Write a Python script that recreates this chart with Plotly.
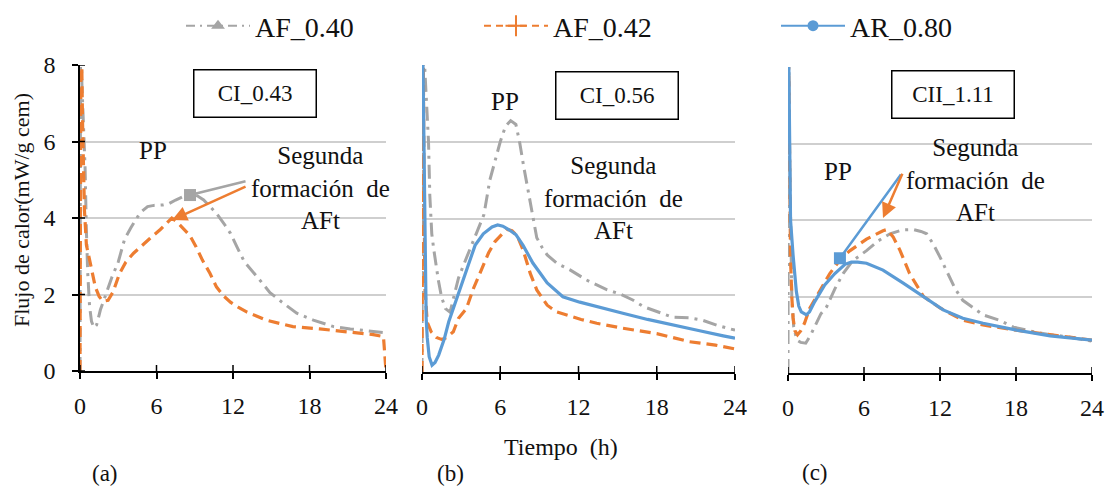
import plotly.graph_objects as go

W, H = 1110, 486
FONT = "Liberation Serif"
GRAY = "#A5A5A5"
ORANGE = "#ED7D31"
BLUE = "#5B9BD5"
TXT = "#111111"

SERIES = ["AF_0.40", "AF_0.42", "AR_0.80"]
X_TICKS = [0, 6, 12, 18, 24]
Y_TICKS = [0, 2, 4, 6, 8]
PANEL_LABELS = ["(a)", "(b)", "(c)"]
PANEL_BOXES = ["CI_0.43", "CI_0.56", "CII_1.11"]

# ---------------- Panel (a) CI_0.43 ----------------
A_AF040_T = [0, 0.05, 0.15, 0.3, 0.4, 0.5, 0.6, 0.75, 0.9, 1.1, 1.3, 1.6, 2.0, 2.5, 3.0, 3.5, 4.0,
             4.7, 5.3, 5.8, 6.5, 7.0, 7.5, 8.0, 8.6, 9.2, 9.7, 10.2, 10.7, 11.3, 11.8, 12.3, 12.9,
             13.9, 14.9, 15.8, 17.0, 18.3, 19.9, 21.2, 22.5, 24]
A_AF040_Y = [0, 9.5, 7.5, 6.0, 5.3, 3.7, 2.6, 1.7, 1.3, 1.13, 1.2, 1.6, 2.0, 2.45, 2.85, 3.45, 3.75,
             4.13, 4.3, 4.33, 4.34, 4.38, 4.47, 4.55, 4.63, 4.58, 4.47, 4.3, 4.12, 3.85, 3.6, 3.25, 2.85,
             2.46, 2.05, 1.81, 1.51, 1.33, 1.16, 1.1, 1.05, 1.0]
A_AF042_T = [0, 0.08, 0.2, 0.35, 0.5, 0.7, 0.9, 1.2, 1.5, 1.8, 2.2, 2.6, 3.1, 3.6, 4.2, 4.8, 5.5,
             6.3, 6.8, 7.2, 7.6, 8.1, 8.6, 9.1, 9.6, 10.2, 10.7, 11.3, 11.8, 12.4, 13.1, 14.6, 16.7,
             18.8, 21.2, 23.0, 23.8, 24]
A_AF042_Y = [0, 9.5, 6.5, 4.2, 3.3, 3.0, 2.65, 2.2, 1.95, 1.82, 1.85, 2.07, 2.55, 2.85, 3.08, 3.27, 3.47,
             3.7, 3.88, 4.0, 3.9, 3.72, 3.55, 3.25, 2.9, 2.55, 2.2, 1.95, 1.8, 1.67, 1.54, 1.33, 1.16,
             1.1, 1.02, 0.95, 0.9, 0]

# ---------------- Panel (b) CI_0.56 ----------------
B_AF040_T = [0, 0.05, 0.2, 0.35, 0.5, 0.6, 0.75, 0.9, 1.05, 1.25, 1.5, 1.8, 2.15, 2.5, 2.8, 3.2, 3.7,
             4.35, 4.75, 5.2, 5.6, 6.0, 6.4, 6.8, 7.2, 7.5, 7.8, 8.05, 8.3, 8.5, 8.8, 9.2, 9.6, 10.35,
             11.35, 12.6, 14.2, 15.2, 16.2, 17.0, 18.0, 19.2, 20.5, 21.5, 22.6, 24]
B_AF040_Y = [0, 9.5, 8.0, 7.0, 6.0, 4.6, 3.6, 3.2, 2.8, 2.4, 1.95, 1.65, 1.56, 2.0, 2.45, 2.8, 3.23,
             3.75, 4.1, 5.0, 5.5, 6.0, 6.4, 6.55, 6.45, 5.96, 5.35, 4.9, 4.48, 4.1, 3.5, 3.25, 3.05, 2.83,
             2.66, 2.4, 2.14, 2.03, 1.87, 1.7, 1.58, 1.43, 1.41, 1.35, 1.22, 1.09]
B_AF042_T = [0, 0.08, 0.15, 0.22, 0.4, 0.7, 1.1, 1.5, 1.9, 2.4, 2.8, 3.4, 3.96, 4.4, 5.1, 5.6, 6.2,
             6.5, 6.9, 7.3, 7.75, 8.3, 8.8, 9.6, 10.3, 11.1, 12.2, 13.4, 15.4, 18.0, 20.5, 22.5, 24]
B_AF042_Y = [0, 9.5, 5.0, 2.2, 1.3, 1.05, 0.9, 0.85, 0.9, 1.05, 1.4, 1.65, 2.19, 2.53, 3.1, 3.4, 3.61,
             3.72, 3.68, 3.55, 3.18, 2.57, 2.14, 1.74, 1.57, 1.48, 1.37, 1.27, 1.14, 1.0, 0.79, 0.7, 0.6]
B_AR080_T = [0, 0.1, 0.18, 0.25, 0.32, 0.4, 0.55, 0.77, 1.0, 1.28, 1.7, 2.05, 2.6, 3.07, 3.6, 4.07,
             4.7, 5.37, 5.8, 6.2, 6.7, 7.2, 7.75, 8.5, 9.6, 10.8, 12.1, 13.7, 15.4, 17.3, 19.2, 21.2,
             23.1, 24]
B_AR080_Y = [10, 7.5, 5.0, 2.2, 1.4, 0.9, 0.4, 0.18, 0.25, 0.44, 0.85, 1.31, 1.85, 2.34, 2.85, 3.3,
             3.6, 3.78, 3.83, 3.8, 3.7, 3.58, 3.3, 2.84, 2.32, 1.96, 1.82, 1.67, 1.53, 1.37, 1.22, 1.08,
             0.94, 0.88]

# ---------------- Panel (c) CII_1.11 ----------------
C_AF040_T = [0, 0.04, 0.12, 0.2, 0.3, 0.45, 0.7, 1.0, 1.4, 1.8, 2.26, 2.6, 3.05, 3.7, 4.35, 5.1, 6.2,
             7.1, 8.05, 9.0, 9.9, 10.5, 10.95, 11.5, 12.0, 13.2, 13.8, 14.6, 15.4, 16.7, 17.8, 19.4,
             20.7, 22.0, 23.3, 24]
C_AF040_Y = [0, 9.5, 6.0, 3.4, 2.0, 1.2, 0.86, 0.8, 0.78, 1.0, 1.34, 1.55, 1.73, 2.2, 2.6, 2.93, 3.2,
             3.45, 3.64, 3.74, 3.75, 3.7, 3.64, 3.35, 3.03, 2.2, 1.9, 1.7, 1.52, 1.38, 1.2, 1.08,
             1.0, 0.95, 0.86, 0.83]
C_AF042_T = [0, 0.1, 0.2, 0.3, 0.4, 0.55, 0.75, 1.0, 1.3, 1.7, 2.4, 3.3, 4.2, 4.9, 6.2, 7.0, 7.5,
             7.8, 8.3, 8.85, 9.6, 10.7, 12.0, 13.8, 15.5, 18.0, 21.0, 24]
C_AF042_Y = [10, 6.0, 3.0, 2.0, 1.44, 1.1, 1.0, 1.1, 1.3, 1.68, 2.1, 2.6, 3.0, 3.2, 3.5, 3.65, 3.72,
             3.75, 3.56, 3.2, 2.6, 2.0, 1.7, 1.38, 1.25, 1.12, 0.98, 0.86]
C_AR080_T = [0, 0.08, 0.2, 0.4, 0.66, 0.85, 1.05, 1.45, 1.7, 2.1, 2.9, 3.7, 4.5, 5.0, 5.5, 6.2, 7.5,
             9.1, 10.7, 12.25, 13.8, 15.4, 18.05, 20.7, 24]
C_AR080_Y = [10, 8.0, 4.0, 3.08, 2.13, 1.75, 1.6, 1.52, 1.6, 1.86, 2.3, 2.6, 2.84, 2.9, 2.9, 2.87,
             2.69, 2.35, 1.99, 1.65, 1.43, 1.3, 1.12, 0.97, 0.86]

# annotation arrows (head, tail) in data units
A_ARROWS = [  # (head_t, head_y, tail_t, tail_y, color, head style)
    (8.63, 4.60, 13.1, 4.97, GRAY, 7),
    (7.22, 3.95, 13.1, 4.84, ORANGE, 2),
]
C_ARROWS = [
    (4.1, 3.00, 9.0, 5.23, BLUE, 7),
    (7.5, 4.05, 9.08, 5.25, ORANGE, 2),
]


def px(x):
    return x / W


def py(y):
    return 1 - y / H


STYLE = {
    "AF_0.40": dict(color=GRAY, width=3, dash="14px,6px,3px,6px"),
    "AF_0.42": dict(color=ORANGE, width=3.2, dash="11px,6px"),
    "AR_0.80": dict(color=BLUE, width=3.2),
}

panels = [
    ("x", "y", [("AF_0.40", A_AF040_T, A_AF040_Y), ("AF_0.42", A_AF042_T, A_AF042_Y)]),
    ("x2", "y2", [("AF_0.40", B_AF040_T, B_AF040_Y), ("AF_0.42", B_AF042_T, B_AF042_Y),
                  ("AR_0.80", B_AR080_T, B_AR080_Y)]),
    ("x3", "y3", [("AF_0.40", C_AF040_T, C_AF040_Y), ("AF_0.42", C_AF042_T, C_AF042_Y),
                  ("AR_0.80", C_AR080_T, C_AR080_Y)]),
]

fig = go.Figure()
for xa, ya, series in panels:
    for name, t, y in series:
        fig.add_trace(go.Scatter(x=t, y=y, mode="lines", name=name, showlegend=False,
                                 line=STYLE[name], xaxis=xa, yaxis=ya, hoverinfo="skip"))

# legend-only entries, one legend per series
LEG_MARK = {
    "AF_0.40": dict(symbol="triangle-up", size=12, color=GRAY),
    "AF_0.42": dict(symbol="cross-thin", size=15, color=ORANGE, line=dict(color=ORANGE, width=2)),
    "AR_0.80": dict(symbol="circle", size=11, color=BLUE),
}
LEG_DASH = {"AF_0.40": "9px,5px,2px,5px", "AF_0.42": "7px,5px", "AR_0.80": None}
LEG_IDS = ["legend", "legend2", "legend3"]
for name, lid in zip(SERIES, LEG_IDS):
    st = dict(STYLE[name])
    st["width"] = 2
    if LEG_DASH[name]:
        st["dash"] = LEG_DASH[name]
    fig.add_trace(go.Scatter(x=[None], y=[None], mode="lines+markers", name=name, legend=lid,
                             line=st, marker=LEG_MARK[name], xaxis="x", yaxis="y"))

domains = [((80, 386), (65, 371)), ((422, 735), (65, 372)), ((788, 1092), (67, 373))]
tickfont = dict(family=FONT, size=24, color=TXT)
LEG_ITEMW = 64
layout = dict(
    template="none",
    width=W, height=H, margin=dict(l=0, r=0, t=0, b=0, pad=0, autoexpand=False),
    paper_bgcolor="white", plot_bgcolor="white",
    font=dict(family=FONT, color=TXT),
    showlegend=True,
)
for lid, tx in zip(LEG_IDS, [255, 553, 850]):
    layout[lid] = dict(orientation="h", x=px(tx - LEG_ITEMW - 10), xanchor="left", y=py(26),
                       yanchor="middle", itemwidth=LEG_ITEMW,
                       font=dict(family=FONT, size=28, color=TXT), bgcolor="rgba(0,0,0,0)",
                       borderwidth=0)
for i, ((x0, x1), (y0, y1)) in enumerate(domains):
    k = "" if i == 0 else str(i + 1)
    layout["xaxis" + k] = dict(
        domain=[px(x0), px(x1)], anchor="y" + k, range=[0, 24], tickvals=X_TICKS,
        ticks="outside", ticklen=6, tickwidth=1.5, tickcolor="black",
        showline=True, linecolor="black", linewidth=2, showgrid=False, zeroline=False,
        tickfont=tickfont, ticklabelstandoff=6, automargin=False, fixedrange=True)
    layout["yaxis" + k] = dict(
        domain=[py(y1), py(y0)], anchor="x" + k, range=[0, 8], tickvals=Y_TICKS,
        showgrid=True, gridcolor="#CFCFCF", gridwidth=1.5, zeroline=False,
        showline=(i == 0), linecolor="black", linewidth=1.5,
        ticks="outside" if i == 0 else "", ticklen=6, tickwidth=1.5, tickcolor="black",
        showticklabels=(i == 0), tickfont=tickfont, ticklabelstandoff=12, automargin=False,
        fixedrange=True)
fig.update_layout(**layout)

# inside half of the crossing tick marks
shapes = []
for i in range(3):
    k = "" if i == 0 else str(i + 1)
    for v in X_TICKS:
        shapes.append(dict(type="line", xref="x" + k, yref="y" + k, ysizemode="pixel", yanchor=0,
                           x0=v, x1=v, y0=0, y1=6, line=dict(color="black", width=1.5)))
for v in Y_TICKS:
    shapes.append(dict(type="line", xref="x", yref="y", xsizemode="pixel", xanchor=0,
                       x0=0, x1=5, y0=v, y1=v, line=dict(color="black", width=1.5)))
fig.update_layout(shapes=shapes)

ann = []
afont = dict(family=FONT, size=25, color=TXT)
# boxed panel names
for (cx, cy), txt in zip([(254.7, 93.7), (616.5, 95), (953, 94.7)], PANEL_BOXES):
    ann.append(dict(x=px(cx), y=py(cy), xref="paper", yref="paper", text=txt, showarrow=False,
                    font=dict(family=FONT, size=23, color=TXT), width=119, height=44,
                    borderwidth=1.5, bordercolor="black",
                    borderpad=1, bgcolor="white", xanchor="center", yanchor="middle"))
# PP labels
for cx, cy in [(153, 150), (505, 101), (838, 172)]:
    ann.append(dict(x=px(cx), y=py(cy), xref="paper", yref="paper", text="PP", showarrow=False,
                    font=afont, xanchor="center", yanchor="middle"))
# second AFt formation text
for cx, cy in [(320, 188), (613, 198), (975, 180)]:
    ann.append(dict(x=px(cx), y=py(cy), xref="paper", yref="paper",
                    text="Segunda<br>formación  de<br>AFt", showarrow=False, font=afont,
                    xanchor="center", yanchor="middle", align="center"))
# arrows
for xa, ya, arrows in [("x", "y", A_ARROWS), ("x3", "y3", C_ARROWS)]:
    for ht, hy, tt, ty, col, head in arrows:
        ann.append(dict(x=ht, y=hy, ax=tt, ay=ty, xref=xa, yref=ya, axref=xa, ayref=ya,
                        text="", showarrow=True, arrowhead=head, arrowsize=1.2, arrowwidth=2.5,
                        arrowcolor=col, standoff=0, startstandoff=0))
# panel letters
for (cx, cy), txt in zip([(105, 473), (450, 473), (815, 472)], PANEL_LABELS):
    ann.append(dict(x=px(cx), y=py(cy), xref="paper", yref="paper", text=txt, showarrow=False,
                    font=dict(family=FONT, size=23, color=TXT), xanchor="center", yanchor="middle"))
# axis titles
ann.append(dict(x=px(561), y=py(447), xref="paper", yref="paper", text="Tiempo  (h)", showarrow=False,
                font=dict(family=FONT, size=24, color=TXT), xanchor="center", yanchor="middle"))
ann.append(dict(x=px(22), y=py(210), xref="paper", yref="paper", text="Flujo de calor(mW/g cem)",
                showarrow=False, textangle=-90, font=dict(family=FONT, size=22, color=TXT),
                xanchor="center", yanchor="middle"))
fig.update_layout(annotations=ann)

fig.write_html("out.html")
